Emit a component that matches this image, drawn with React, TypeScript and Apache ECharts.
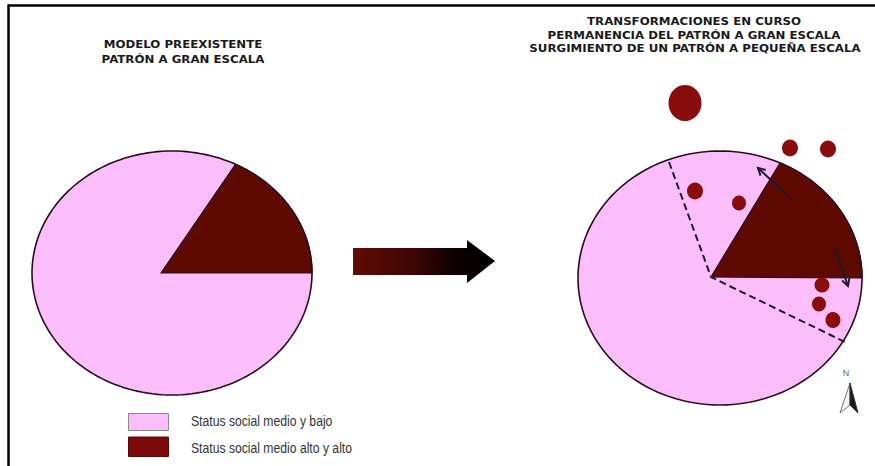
import React, { useEffect, useRef } from "react";
import * as echarts from "echarts";

// ---- data (schematic, in a 875 x 466 unit plane) ----
const legendLabels = ["Status social medio y bajo", "Status social medio alto y alto"];
const leftTitle = ["MODELO PREEXISTENTE", "PATRÓN A GRAN ESCALA"];
const rightTitle = [
  "TRANSFORMACIONES EN CURSO",
  "PERMANENCIA DEL PATRÓN A GRAN ESCALA",
  "SURGIMIENTO DE UN PATRÓN A PEQUEÑA ESCALA",
];

const ellipseCx = [172, 720];
const ellipseCy = [273, 278];
const ellipseRx = [140, 142];
const ellipseRy = [122, 127];
const apexX = [161, 711];
const apexY = [273, 277];
const wedgeArcDeg = [63, 65];

const boundaryX = [669, 711, 845];
const boundaryY = [162, 277, 342];

const arrowFromX = [789, 835];
const arrowFromY = [197, 248];
const arrowToX = [758, 848];
const arrowToY = [168, 286];

const dotX = [790, 828, 695, 739, 822, 819, 833, 685];
const dotY = [148, 149, 191, 203, 285, 304, 320, 103];
const dotW = [16, 16, 16, 14, 15, 14, 15, 33];
const dotH = [17, 17, 17, 15, 15, 15, 16, 36];

const PINK = "#fbbefb";
const WEDGE = "#5e0a02";
const DOT = "#8a0d0d";
const OUTLINE = "#2a0a1c";
const LINE = "#1c1a30";

export default function App() {
  const ref = useRef<HTMLDivElement>(null);

  useEffect(() => {
    if (!ref.current) return;
    const chart = echarts.init(ref.current, null, { renderer: "svg" });

    const pieData = ellipseCx.map((cx, i) => [
      cx,
      ellipseCy[i],
      ellipseRx[i],
      ellipseRy[i],
      apexX[i],
      apexY[i],
      wedgeArcDeg[i],
    ]);
    const arrowData = arrowFromX.map((x, i) => [x, arrowFromY[i], arrowToX[i], arrowToY[i]]);
    const dotData = dotX.map((x, i) => [x, dotY[i], dotW[i], dotH[i]]);
    const boundaryData = boundaryX.map((x, i) => [x, boundaryY[i]]);

    const titleText = (text: string, x: number, y: number) => ({
      type: "text",
      x,
      y,
      scaleX: 1.18,
      style: {
        text,
        fontFamily: "DejaVu Sans",
        fontWeight: "bold",
        fontSize: 10,
        fill: "#1a1a1a",
        align: "center",
        verticalAlign: "middle",
      },
    });

    const option: any = {
      animation: false,
      backgroundColor: "#ffffff",
      grid: { left: 0, right: 0, top: 0, bottom: 0 },
      xAxis: { type: "value", min: 0, max: 875, show: false },
      yAxis: { type: "value", min: 0, max: 466, inverse: true, show: false },
      series: [
        {
          type: "custom",
          name: "pies",
          data: pieData,
          encode: { x: 0, y: 1 },
          renderItem: (params: any, api: any) => {
            const cx = api.value(0);
            const cy = api.value(1);
            const rx = api.value(2);
            const ry = api.value(3);
            const ax = api.value(4);
            const ay = api.value(5);
            const deg = api.value(6);
            const ell: number[][] = [];
            for (let k = 0; k < 180; k++) {
              const t = (k / 180) * Math.PI * 2;
              ell.push(api.coord([cx + rx * Math.cos(t), cy + ry * Math.sin(t)]));
            }
            const wedge: number[][] = [api.coord([ax, ay])];
            const n = 50;
            for (let k = 0; k <= n; k++) {
              const t = -((deg * Math.PI) / 180) * (k / n);
              wedge.push(api.coord([cx + rx * Math.cos(t), cy + ry * Math.sin(t)]));
            }
            return {
              type: "group",
              children: [
                {
                  type: "polygon",
                  shape: { points: ell },
                  style: { fill: PINK, stroke: OUTLINE, lineWidth: 1.6 },
                },
                {
                  type: "polygon",
                  shape: { points: [wedge[0], ...wedge.slice(1).reverse()] },
                  style: { fill: WEDGE, stroke: OUTLINE, lineWidth: 1.2 },
                },
              ],
            };
          },
          silent: true,
          z: 1,
        },
        {
          type: "line",
          name: "boundary",
          data: boundaryData,
          showSymbol: false,
          symbol: "none",
          lineStyle: { color: LINE, width: 2, type: [7, 4] },
          silent: true,
          z: 3,
        },
        {
          type: "scatter",
          name: "dots",
          data: dotData,
          symbol: "circle",
          symbolSize: (v: number[]) => [v[2], v[3]],
          itemStyle: { color: DOT, opacity: 1 },
          silent: true,
          z: 4,
        },
        {
          type: "custom",
          name: "arrows",
          data: arrowData,
          encode: { x: [0, 2], y: [1, 3] },
          renderItem: (params: any, api: any) => {
            const p1 = api.coord([api.value(0), api.value(1)]);
            const p2 = api.coord([api.value(2), api.value(3)]);
            const ang = Math.atan2(p2[1] - p1[1], p2[0] - p1[0]);
            const L = 8;
            const a1 = ang + Math.PI - 0.5;
            const a2 = ang + Math.PI + 0.5;
            return {
              type: "group",
              children: [
                {
                  type: "line",
                  shape: { x1: p1[0], y1: p1[1], x2: p2[0], y2: p2[1] },
                  style: { stroke: LINE, lineWidth: 2 },
                },
                {
                  type: "polyline",
                  shape: {
                    points: [
                      [p2[0] + L * Math.cos(a1), p2[1] + L * Math.sin(a1)],
                      p2,
                      [p2[0] + L * Math.cos(a2), p2[1] + L * Math.sin(a2)],
                    ],
                  },
                  style: { stroke: LINE, lineWidth: 2, fill: "none" },
                },
              ],
            };
          },
          silent: true,
          z: 5,
        },
      ],
      graphic: [
        // frame
        { type: "line", shape: { x1: 8, y1: 5.5, x2: 875, y2: 5.5 }, style: { stroke: "#000", lineWidth: 2.5 } },
        { type: "line", shape: { x1: 8.5, y1: 4.5, x2: 8.5, y2: 466 }, style: { stroke: "#000", lineWidth: 2.5 } },
        // titles
        titleText(leftTitle[0], 183, 45),
        titleText(leftTitle[1], 183, 60),
        titleText(rightTitle[0], 694, 22),
        titleText(rightTitle[1], 694, 35.5),
        titleText(rightTitle[2], 695, 49),
        // big transition arrow
        {
          type: "polygon",
          shape: {
            points: [
              [353, 248],
              [467, 248],
              [467, 240],
              [495, 261],
              [467, 283],
              [467, 275],
              [353, 275],
            ],
          },
          style: {
            fill: new echarts.graphic.LinearGradient(0, 0, 1, 0, [
              { offset: 0, color: "#620c06" },
              { offset: 0.45, color: "#3a0604" },
              { offset: 0.72, color: "#0c0000" },
              { offset: 1, color: "#000000" },
            ]),
          },
        },
        // north arrow
        {
          type: "text",
          x: 846,
          y: 373,
          style: { text: "N", fontFamily: "Liberation Sans", fontSize: 9, fill: "#666", align: "center", verticalAlign: "middle" },
        },
        {
          type: "polygon",
          shape: { points: [[850, 383], [850, 405], [840, 413]] },
          style: { fill: "#f4f4f4", stroke: "#777", lineWidth: 1 },
        },
        {
          type: "polygon",
          shape: { points: [[850, 383], [858, 413], [850, 405]] },
          style: { fill: "#1a1a1a", stroke: "#333", lineWidth: 1 },
        },
        // legend
        {
          type: "rect",
          shape: { x: 128.5, y: 413.5, width: 40, height: 17 },
          style: { fill: PINK, stroke: "#8a8a8a", lineWidth: 1 },
        },
        {
          type: "rect",
          shape: { x: 128.5, y: 437, width: 40, height: 19.5 },
          style: { fill: "#7c0a0a", stroke: "#5a0808", lineWidth: 1 },
        },
        {
          type: "text",
          x: 191,
          y: 421,
          scaleX: 0.87,
          style: { text: legendLabels[0], fontFamily: "Liberation Sans", fontSize: 14, fill: "#333", align: "left", verticalAlign: "middle" },
        },
        {
          type: "text",
          x: 191,
          y: 448,
          scaleX: 0.87,
          style: { text: legendLabels[1], fontFamily: "Liberation Sans", fontSize: 14, fill: "#333", align: "left", verticalAlign: "middle" },
        },
      ],
    };

    chart.setOption(option);
    return () => chart.dispose();
  }, []);

  return (
    <div
      ref={ref}
      style={{ position: "absolute", left: 0, top: 0, width: 875, height: 466, background: "#fff" }}
    />
  );
}
